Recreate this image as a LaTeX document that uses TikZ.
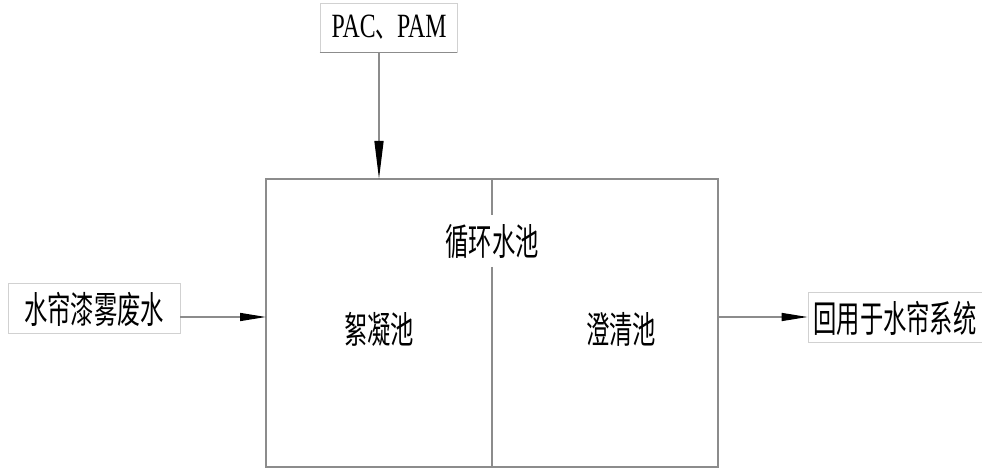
\documentclass[tikz,border=0pt]{standalone}
\usepackage{fontspec}
\setmainfont{Liberation Serif}[FakeStretch=0.7]
\newfontfamily\cjk{Noto Sans CJK SC}[FakeStretch=0.63]
\usetikzlibrary{arrows.meta}
\definecolor{ln}{RGB}{140,140,140}
\tikzset{
  line/.style={draw=ln, line width=1.4pt},
  arrh/.style={line, -{Triangle[length=26pt,width=8pt,color=black]}},
  arrv/.style={line, -{Triangle[length=38pt,width=9pt,color=black]}},
  lbl/.style={inner sep=0pt, font=\cjk\fontsize{37}{37}\selectfont},
  faint/.style={draw=black!18, line width=0.8pt, inner sep=0pt},
}
\begin{document}
\begin{tikzpicture}[x=1pt,y=-1pt]
\useasboundingbox (0,0) rectangle (982,470);
% pools
\node[line, minimum width=452pt, minimum height=288pt, inner sep=0pt] (pool) at (492,323) {};
\node[lbl, inner sep=0pt] (cyc) at (492,242) {循环水池};
\coordinate (dtop) at (492,215);
\coordinate (dbot) at (492,267);
\draw[line] (pool.north) -- (dtop);
\draw[line] (dbot) -- (pool.south);
\node[lbl] (floc) at (379,329) {絮凝池};
\node[lbl] (clar) at (621,329) {澄清池};
% chemical input
\node[faint, minimum width=137pt, minimum height=49pt] (pac) at (388.5,27.5) {};
\node[inner sep=0pt, font=\fontsize{34}{34}\selectfont] (pact) at (389,27) {PAC{\cjk 、}PAM};
\draw[line] (pac.south west) -- (pac.south east);
\coordinate (ain) at (379,179);
\draw[arrv] (pac.south -| ain) -- (ain);
% inlet
\node[faint, minimum width=172pt, minimum height=50pt] (inbox) at (94,308) {};
\node[lbl] (int) at (94,309) {水帘漆雾废水};
\coordinate (inl) at (266,317);
\draw[arrh] (inbox.east |- inl) -- (inl);
% outlet
\node[faint, minimum width=180pt, minimum height=50pt] (outbox) at (898,317) {};
\node[lbl] (outt) at (895,318) {回用于水帘系统};
\coordinate (outl) at (718,317);
\draw[arrh] (outl) -- (outbox.west |- outl);
\end{tikzpicture}
\end{document}
